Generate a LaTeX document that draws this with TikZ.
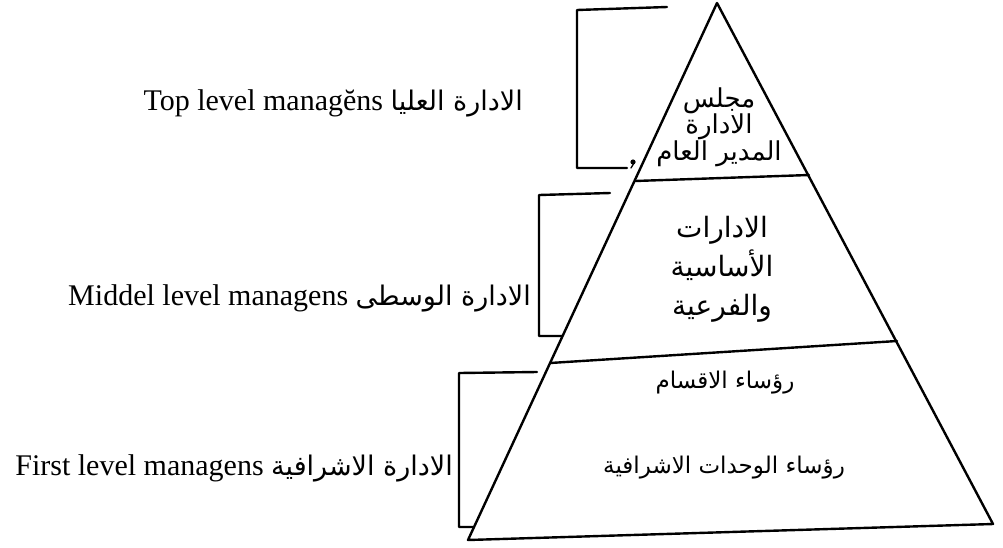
\documentclass[tikz,border=0pt]{standalone}
\usepackage{fontspec}
\setmainfont{Liberation Serif}
\newfontfamily\arabicfont[Script=Arabic]{DejaVu Sans}
\TeXXeTstate=1
\newcommand{\artext}[1]{{\arabicfont\beginR #1\endR}}

\begin{document}
\begin{tikzpicture}[x=1pt,y=-1pt,line width=2.4pt,line join=round,line cap=round,
  levellabel/.style={anchor=base east,inner sep=0pt,font=\fontsize{30}{34}\selectfont},
  tierlabel/.style={inner sep=0pt,align=center}]
\useasboundingbox (0,0) rectangle (1003,547);

% pyramid outline
\coordinate (apex) at (717,3);
\coordinate (bl) at (468,540);
\coordinate (br) at (993,524);
\draw (apex) -- (bl) -- (br) -- cycle;

% tier boundaries
\coordinate (t1l) at (635,181);
\coordinate (t1r) at (809,175);
\coordinate (t2l) at (550,363);
\coordinate (t2r) at (897,341);
\draw (t1l) -- (t1r);
\draw (t2l) -- (t2r);

% brackets grouping each level
\coordinate (b1a) at (667,7);   \coordinate (b1b) at (577,10);
\coordinate (b1c) at (577,168); \coordinate (b1d) at (627,168);
\draw (b1a) -- (b1b) -- (b1c) -- (b1d);
\fill (633,162) circle (2.6);
\draw[line width=1.3pt] (634,163) -- (631,168);

\coordinate (b2a) at (610,193); \coordinate (b2b) at (539,195);
\coordinate (b2c) at (539,336); \coordinate (b2d) at (562,336);
\draw (b2a) -- (b2b) -- (b2c) -- (b2d);

\coordinate (b3a) at (537,372); \coordinate (b3b) at (459,373);
\coordinate (b3c) at (459,527); \coordinate (b3d) at (474,527);
\draw (b3a) -- (b3b) -- (b3c) -- (b3d);

% level names
\newcommand{\lvlar}[1]{{\fontsize{27}{31}\selectfont\artext{#1}}}
\node[levellabel] (top) at (524,110)
  {Top level manag\u{e}ns \lvlar{الادارة العليا}};
\node[levellabel] (mid) at (532,305)
  {Middel level managens \lvlar{الادارة الوسطى}};
\node[levellabel] (first) at (454,475)
  {First level managens \lvlar{الادارة الاشرافية}};

% tier contents
\node[tierlabel,font=\fontsize{26}{26.5}\selectfont] (tier1) at (719,127)
  {\artext{مجلس}\\\artext{الادارة}\\\artext{المدير العام}};
\node[tierlabel,font=\fontsize{28}{39}\selectfont] (tier2) at (722,269)
  {\artext{الادارات}\\\artext{الأساسية}\\\artext{والفرعية}};
\node[tierlabel,font=\fontsize{23}{27}\selectfont] (tier3a) at (725,383)
  {\artext{رؤساء الاقسام}};
\node[tierlabel,font=\fontsize{23}{27}\selectfont] (tier3b) at (724,468)
  {\artext{رؤساء الوحدات الاشرافية}};
\end{tikzpicture}
\end{document}
